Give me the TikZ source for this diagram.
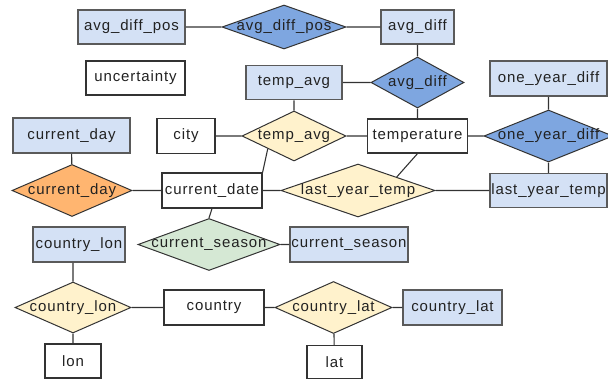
\documentclass[tikz,border=0pt]{standalone}
\usepackage{fontspec}
\setmainfont{Liberation Sans}[LetterSpace=6]
\usetikzlibrary{shapes.geometric,calc}

\definecolor{attrblue}{HTML}{D4E1F5}
\definecolor{relblue}{HTML}{7EA6E0}
\definecolor{relorange}{HTML}{FFB570}
\definecolor{relyellow}{HTML}{FFF2CC}
\definecolor{relgreen}{HTML}{D5E8D4}
\definecolor{edgegray}{HTML}{333333}
\definecolor{bordergray}{HTML}{5A5A5A}
\definecolor{txt}{HTML}{222222}

\tikzset{
  labelfont/.style={font=\fontsize{15}{18}\selectfont, text=txt},
  ent/.style={rectangle, draw=edgegray, line width=1.2pt, fill=white,
    inner sep=0pt, labelfont},
  attr/.style={ent, fill=attrblue, draw=bordergray, line width=1.5pt},
  box/.style 2 args={minimum width=#1pt, minimum height=#2pt},
  rel/.style={diamond, draw=edgegray, line width=1pt, inner sep=0pt,
    label={[labelfont, inner sep=0pt]center:#1}},
  link/.style={draw=edgegray, line width=1.1pt}
}

\begin{document}
\begin{tikzpicture}[x=1pt, y=-1pt]
\useasboundingbox (0,0) rectangle (608,380);

% first row: avg_diff_pos relation
\node[attr, box={107}{34}] (adpr) at (131.5,27) {avg\_diff\_pos};
\node[rel={avg\_diff\_pos}, box={124}{44}, fill=relblue] (adpd) at (284,27) {};
\node[attr, box={73}{34}] (adr) at (417.5,27) {avg\_diff};

\node[ent, box={99}{34}] (unc) at (135.5,78) {uncertainty};

% temp_avg / avg_diff
\node[attr, box={96}{34}] (tar) at (294,82.5) {temp\_avg};
\node[rel={avg\_diff}, box={93}{51}, fill=relblue] (add) at (417.5,82.5) {};
\node[attr, box={117}{35}] (oyr) at (548.5,78.5) {one\_year\_diff};

% temperature row
\node[attr, box={117}{35}] (cdr) at (71.5,135.5) {current\_day};
\node[ent, box={58}{35}] (city) at (186,136) {city};
\node[rel={temp\_avg}, box={104}{50}, fill=relyellow] (tad) at (294,136) {};
\node[ent, box={100}{34}] (temp) at (417.5,136) {temperature};
\node[rel={one\_year\_diff}, box={129}{52}, fill=relblue] (oyd) at (548.5,136) {};

% current_date row
\node[rel={current\_day}, box={120}{52}, fill=relorange] (cdd) at (72,190.5) {};
\node[ent, box={100}{35}] (cdate) at (212,190.5) {current\_date};
\node[rel={last\_year\_temp}, box={154}{53}, fill=relyellow] (lytd) at (358,190.5) {};
\node[attr, box={117}{34}] (lytr) at (548.5,190.5) {last\_year\_temp};

% season row
\node[attr, box={92}{35}] (clonr) at (79,244.5) {country\_lon};
\node[rel={current\_season}, box={142}{52}, fill=relgreen] (csd) at (209,244.5) {};
\node[attr, box={118}{35}] (csr) at (349,244.5) {current\_season};

% country row
\node[rel={country\_lon}, box={116}{51}, fill=relyellow] (clond) at (73,307.5) {};
\node[ent, box={100}{35}] (country) at (214,307.5) {country};
\node[rel={country\_lat}, box={117}{52}, fill=relyellow] (clatd) at (333.5,307.5) {};
\node[attr, box={99}{35}] (clatr) at (452.5,307.5) {country\_lat};

\node[ent, box={56}{34}] (lon) at (73,361) {lon};
\node[ent, box={55}{33}] (lat) at (334.5,362) {lat};

% connectors
\path[link]
  (adpr) -- (adpd)
  (adpd) -- (adr)
  (adr) -- (add)
  (tar) -- (add)
  (add) -- (temp)
  (tar) -- (tad)
  (city) -- (tad)
  (tad) -- (temp)
  (temp) -- (oyd)
  (oyr) -- (oyd)
  (oyd) -- (lytr)
  (temp.south) -- ($(lytd.north)!0.5!(lytd.east)$)
  (cdate) -- (lytd)
  (lytd) -- (lytr)
  (cdr) -- (cdd)
  (cdd) -- (cdate)
  (cdate.north east) -- ($(tad.west)!0.5!(tad.south)$)
  (cdate.south) -- (csd.north)
  (csd) -- (csr)
  (clond.north) -- (clond.north |- clonr.south)
  (clond) -- (country)
  (clond) -- (lon)
  (country) -- (clatd)
  (clatd) -- (clatr)
  (clatd) -- (lat);
\end{tikzpicture}
\end{document}
